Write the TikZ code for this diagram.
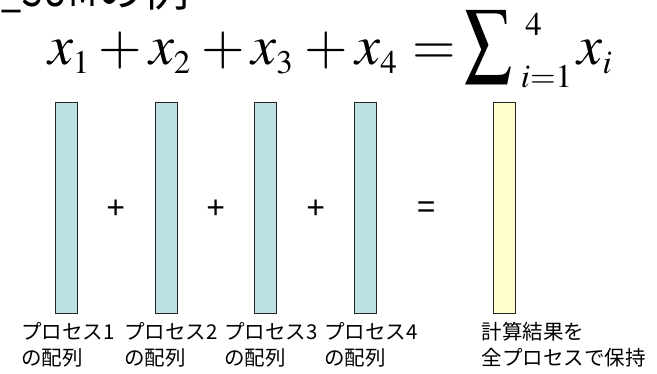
\documentclass[tikz,border=0pt]{standalone}
\usepackage{mathptmx}
\usepackage[no-math]{fontspec}
\setmainfont{Liberation Sans}
\newfontfamily\jp{Noto Sans CJK JP}
\usepackage{graphicx}
\DeclareMathSizes{56}{56}{33}{26}
\DeclareMathSizes{33}{33}{24}{18}
\definecolor{barblue}{HTML}{BCE0E4}
\definecolor{baryellow}{HTML}{FFFFCC}
\begin{document}
\begin{tikzpicture}[x=1pt,y=-1pt,
  bar/.style={draw=black!85, line width=0.9pt, fill=barblue, minimum width=22pt,
    minimum height=211.5pt, inner sep=0pt, outer sep=0pt, anchor=north west},
  resbar/.style={bar, fill=baryellow},
  op/.style={inner sep=0pt, font=\fontsize{32}{32}\selectfont},
  fm/.style={inner sep=0pt, anchor=base, font=\fontsize{56}{56}\selectfont},
  fs/.style={inner sep=0pt, font=\fontsize{33}{33}\selectfont},
  lbl/.style={inner sep=0pt, anchor=base west, font=\jp\fontsize{20.5}{24}\selectfont},
  ttl/.style={inner sep=0pt, anchor=base west, font=\jp\fontsize{46}{50}\selectfont}]
\useasboundingbox (0,0) rectangle (657,374);
\fill[white] (0,0) rectangle (657,374);
% title (cut at top)
\node[ttl] (title) at (1,7) {\scalebox{0.78}[1]{\_SUM}の例};
% formula
\node[fm] (x1) at (69,65) {$x_1$};
\node[fm] (pl1) at (120,65) {$+$};
\node[fm] (x2) at (170,65) {$x_2$};
\node[fm] (pl2) at (223,65) {$+$};
\node[fm] (x3) at (272.5,65) {$x_3$};
\node[fm] (pl3) at (326,65) {$+$};
\node[fm] (x4) at (376.5,65) {$x_4$};
\node[fm] (eqf) at (434,65) {$=$};
\node[inner sep=0pt] (sum) at (489,46.5) {\resizebox*{48pt}{73pt}{$\sum$}};
\node[fs, anchor=north] (sup) at (533.5,13) {$4$};
\node[fs, anchor=base] (sub) at (546.5,88) {$i{=}1$};
\node[fm] (xi) at (595,65) {$x_i$};
% bars
\node[bar] (b1) at (55,102) {};
\node[bar] (b2) at (155,102) {};
\node[bar] (b3) at (254.5,102) {};
\node[bar] (b4) at (354.5,102) {};
\node[resbar] (r) at (493.5,102) {};
% operators
\node[op] (p1) at (115.7,209) {+};
\node[op] (p2) at (215.7,209) {+};
\node[op] (p3) at (315.7,209) {+};
\node[op] (eq) at (426.3,210) {=};
% labels
\node[lbl] (l1a) at (21,339.5) {プロセス1};
\node[lbl] (l1b) at (21,366) {の配列};
\node[lbl] (l2a) at (124,339.5) {プロセス2};
\node[lbl] (l2b) at (124,366) {の配列};
\node[lbl] (l3a) at (224,339.5) {プロセス3};
\node[lbl] (l3b) at (224,366) {の配列};
\node[lbl] (l4a) at (324,339.5) {プロセス4};
\node[lbl] (l4b) at (324,366) {の配列};
\node[lbl] (l5a) at (481.5,339.5) {計算結果を};
\node[lbl] (l5b) at (481.5,366) {全プロセスで保持};
\end{tikzpicture}
\end{document}
